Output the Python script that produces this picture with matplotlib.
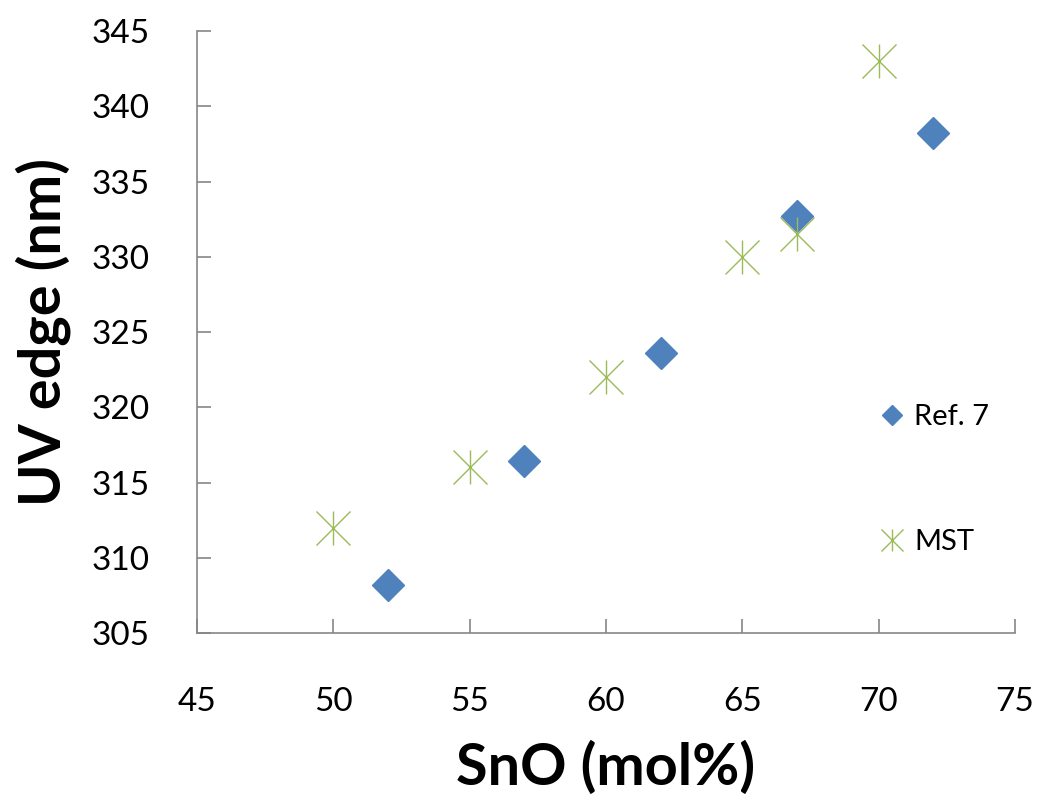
import matplotlib
matplotlib.use("Agg")
import matplotlib.pyplot as plt
from matplotlib.legend_handler import HandlerTuple

# UV absorption edge vs SnO content
ref7_sno = [52, 57, 62, 67, 72]
ref7_uv = [308.2, 316.4, 323.6, 332.7, 338.2]

mst_sno = [50, 55, 60, 65, 67, 70]
mst_uv = [312.0, 316.0, 322.0, 330.0, 331.5, 343.0]

x_ticks = [45, 50, 55, 60, 65, 70, 75]
y_ticks = [305, 310, 315, 320, 325, 330, 335, 340, 345]

plt.rcParams['font.family'] = ['Lato', 'DejaVu Sans']

blue = '#4F81BD'
green = '#9BBB59'
axis_grey = '#868686'

fig = plt.figure(figsize=(10.39, 8.02), dpi=100)
ax = fig.add_axes([0.1896, 0.2107, 0.7873, 0.7506])

ref_h, = ax.plot(ref7_sno, ref7_uv, linestyle='none', marker='D', markersize=16,
                 color=blue, markeredgecolor=blue, label='Ref. 7')
mst_x, = ax.plot(mst_sno, mst_uv, linestyle='none', marker='x', markersize=24,
                 markeredgewidth=1.0, color=green)
mst_v, = ax.plot(mst_sno, mst_uv, linestyle='none', marker='|', markersize=24,
                 markeredgewidth=1.0, color=green)

ax.set_xlim(45, 75)
ax.set_ylim(305, 345)
ax.set_xticks(x_ticks)
ax.set_yticks(y_ticks)

for side in ('top', 'right'):
    ax.spines[side].set_visible(False)
for side in ('left', 'bottom'):
    ax.spines[side].set_color(axis_grey)
    ax.spines[side].set_linewidth(1.2)

ax.tick_params(axis='both', direction='in', length=10, width=1.2,
               color=axis_grey, labelsize=24, labelcolor='black')
ax.tick_params(axis='x', pad=39)
ax.tick_params(axis='y', pad=34)

ax.set_xlabel('SnO (mol%)', fontsize=41.5, fontweight='bold', labelpad=17)
ax.set_ylabel('UV edge (nm)', fontsize=41.5, fontweight='bold', labelpad=15)

leg = ax.legend([ref_h, (mst_x, mst_v)], ['Ref. 7', 'MST'],
                handler_map={tuple: HandlerTuple(ndivide=1)},
                loc='center left', bbox_to_anchor=(0.802, 0.255),
                frameon=False, fontsize=21, labelspacing=3.4,
                handlelength=0.9, handletextpad=0.3, markerscale=0.66)

fig.savefig('out.png', dpi=100)
